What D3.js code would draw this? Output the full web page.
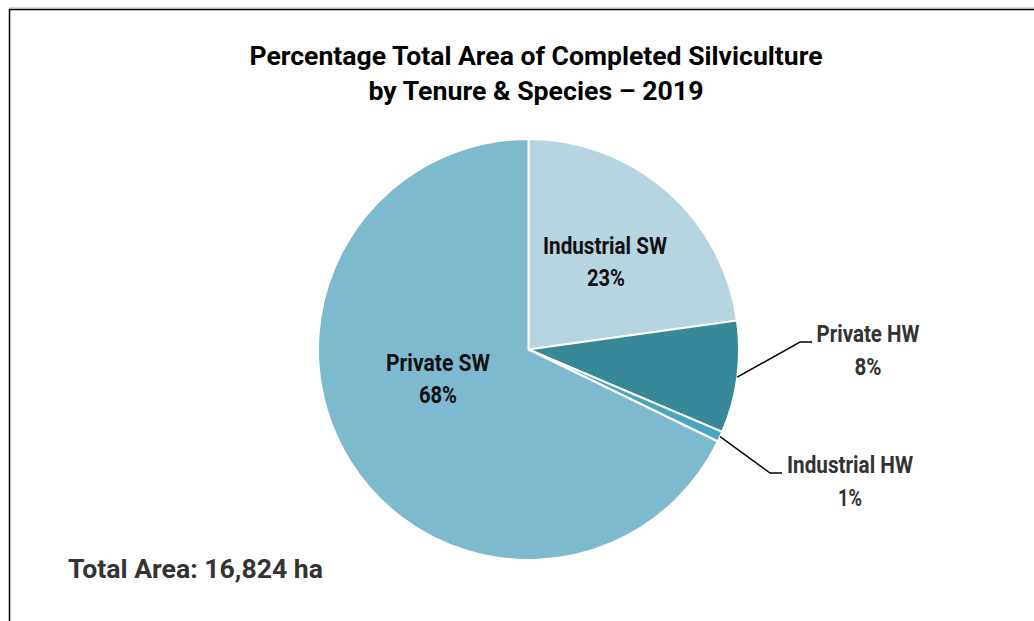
<!DOCTYPE html>
<html><head><meta charset="utf-8">
<script src="https://cdn.jsdelivr.net/npm/d3@7"></script>
<style>body{margin:0;background:#fff}svg{display:block}text{font-family:Roboto,"Liberation Sans",sans-serif;font-weight:bold}</style>
</head><body>
<svg id="c" width="1034" height="621"></svg>
<script>
const categories = ["Industrial SW", "Private HW", "Industrial HW", "Private SW"];
const values = [22.8, 8.6, 0.8, 67.8];
const pctLabels = ["23%", "8%", "1%", "68%"];
const colors = ["#b7d5e0", "#378899", "#4ba4be", "#7db9cf"];
const titleLines = ["Percentage Total Area of Completed Silviculture", "by Tenure & Species \u2013 2019"];
const totalLabel = "Total Area: 16,824 ha";

const svg = d3.select("#c");
// frame
svg.append("path").attr("d", "M9.5,621 V9.5 H1034").attr("fill", "none").attr("stroke", "#000").attr("stroke-width", 1.5);
svg.append("line").attr("x1", 9).attr("x2", 1034).attr("y1", 8).attr("y2", 8).attr("stroke", "#aaa").attr("stroke-width", 1);

const tl = [573, 335];
titleLines.forEach((t, i) => {
  svg.append("text").attr("x", 536).attr("y", 65 + i * 35).attr("text-anchor", "middle")
    .attr("font-size", 26).attr("fill", "#000").attr("textLength", tl[i]).attr("lengthAdjust", "spacingAndGlyphs").text(t);
});

const cx = 528.5, cy = 349.5, R = 210.5;
const g = svg.append("g").attr("transform", `translate(${cx},${cy})`);
const pie = d3.pie().sort(null).value(d => d);
const arcs = pie(values);
const arc = d3.arc().innerRadius(0).outerRadius(R);
g.selectAll("path.s").data(arcs).join("path").attr("class", "s")
  .attr("d", arc).attr("fill", (d, i) => colors[i]).attr("stroke", "#fff").attr("stroke-width", 2).attr("stroke-linejoin", "round");

// labels
const lab = [
  {name: [605, 254, 124], pct: [606, 286, 38], fill: "#111"},
  {name: [868, 342, 103], pct: [868, 375, 27], fill: "#333", leader: [[0, 0], [800, 342], [812, 342]]},
  {name: [850, 473, 126], pct: [850, 506, 24], fill: "#333", leader: [[0, 0], [770, 473], [782, 473]]},
  {name: [438, 371, 104], pct: [438, 403, 38], fill: "#111"}
];
const edge = d3.arc().innerRadius(R).outerRadius(R);
arcs.forEach((a, i) => {
  const L = lab[i];
  if (L.leader) {
    const c = edge.centroid(a);
    const pts = [[cx + c[0], cy + c[1]], L.leader[1], L.leader[2]];
    svg.append("path").attr("d", d3.line()(pts)).attr("fill", "none").attr("stroke", "#000").attr("stroke-width", 1.5);
  }
  svg.append("text").attr("x", L.name[0]).attr("y", L.name[1]).attr("text-anchor", "middle").attr("font-size", 23.5)
    .attr("fill", L.fill).attr("textLength", L.name[2]).attr("lengthAdjust", "spacingAndGlyphs").text(categories[i]);
  svg.append("text").attr("x", L.pct[0]).attr("y", L.pct[1]).attr("text-anchor", "middle").attr("font-size", 23.5)
    .attr("fill", L.fill).attr("textLength", L.pct[2]).attr("lengthAdjust", "spacingAndGlyphs").text(pctLabels[i]);
});

svg.append("text").attr("x", 68).attr("y", 578).attr("font-size", 25).attr("fill", "#333")
  .attr("textLength", 255).attr("lengthAdjust", "spacingAndGlyphs").text(totalLabel);
</script>
</body></html>
